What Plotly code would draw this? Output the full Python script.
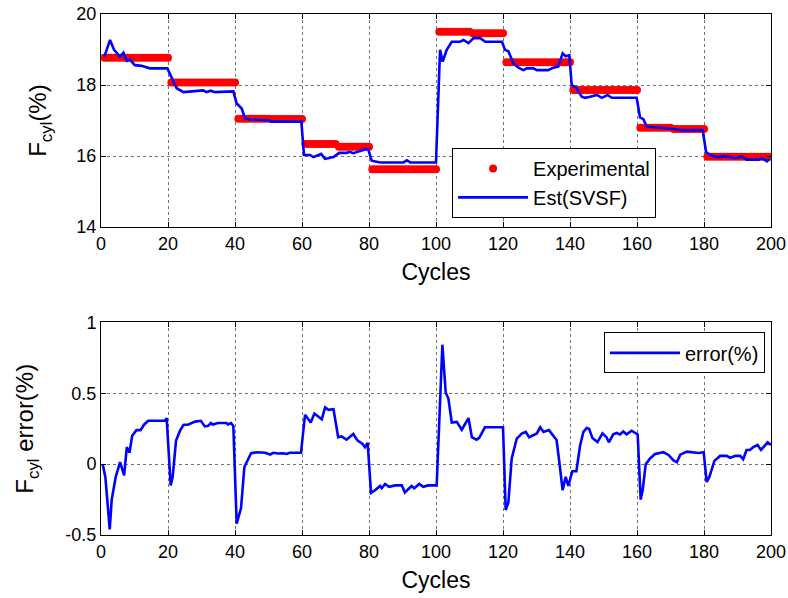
import plotly.graph_objects as go
from plotly.subplots import make_subplots

# ---------------- data ----------------
exp_cycles = list(range(1, 201))
exp_values = [
    18.77, 18.77, 18.77, 18.77, 18.77, 18.77, 18.77, 18.77, 18.77, 18.77,
    18.77, 18.77, 18.77, 18.77, 18.77, 18.77, 18.77, 18.77, 18.77, 18.77,
    18.07, 18.07, 18.07, 18.07, 18.07, 18.07, 18.07, 18.07, 18.07, 18.07,
    18.07, 18.07, 18.07, 18.07, 18.07, 18.07, 18.07, 18.07, 18.07, 18.07,
    17.05, 17.05, 17.05, 17.05, 17.05, 17.05, 17.05, 17.05, 17.05, 17.05,
    17.04, 17.04, 17.04, 17.04, 17.04, 17.04, 17.04, 17.04, 17.04, 17.04,
    16.34, 16.34, 16.34, 16.34, 16.34, 16.34, 16.34, 16.34, 16.34, 16.34,
    16.26, 16.26, 16.26, 16.26, 16.26, 16.26, 16.26, 16.26, 16.26, 16.26,
    15.63, 15.63, 15.63, 15.63, 15.63, 15.63, 15.63, 15.63, 15.63, 15.63,
    15.63, 15.63, 15.63, 15.63, 15.63, 15.63, 15.63, 15.63, 15.63, 15.63,
    19.50, 19.50, 19.50, 19.50, 19.50, 19.50, 19.50, 19.50, 19.50, 19.50,
    19.46, 19.46, 19.46, 19.46, 19.46, 19.46, 19.46, 19.46, 19.46, 19.46,
    18.64, 18.64, 18.64, 18.64, 18.64, 18.64, 18.64, 18.64, 18.64, 18.64,
    18.64, 18.64, 18.64, 18.64, 18.64, 18.64, 18.64, 18.64, 18.64, 18.64,
    17.86, 17.86, 17.86, 17.86, 17.86, 17.86, 17.86, 17.86, 17.86, 17.86,
    17.86, 17.86, 17.86, 17.86, 17.86, 17.86, 17.86, 17.86, 17.86, 17.86,
    16.80, 16.80, 16.80, 16.80, 16.80, 16.80, 16.80, 16.80, 16.80, 16.80,
    16.76, 16.76, 16.76, 16.76, 16.76, 16.76, 16.76, 16.76, 16.76, 16.76,
    15.98, 15.98, 15.98, 15.98, 15.98, 15.98, 15.98, 15.98, 15.98, 15.98,
    15.98, 15.98, 15.98, 15.98, 15.98, 15.98, 15.98, 15.98, 15.98, 15.98,
]

est_cycles = [
    1, 2.7, 3.9, 5.7, 6.7, 7.7, 8.7, 10.1, 12.1, 14.6, 19.8, 21.1, 22.6, 24.6,
    30.5, 31.5, 32.7, 34.0, 39.5, 40.5, 42, 43, 44.5, 50.3, 50.8, 59.8, 60.6,
    62.4, 63.4, 65.7, 66.9, 69.4, 71.1, 73.3, 74.3, 75.3, 77.3, 79.3, 79.8,
    80.8, 83.3, 90.3, 91.3, 92.3, 100.0, 101.2, 102.0, 103.2, 104.7, 107.2,
    108.2, 109.7, 111.2, 113.2, 114.7, 119.7, 120.6, 121.6, 123.1, 124.6,
    126.1, 127.1, 129.1, 130.1, 133.5, 135.0, 136.5, 137.8, 138.7, 139.8,
    140.5, 141.8, 143.5, 144.5, 146, 148, 149.5, 151.2, 152.5, 159.9, 160.9,
    161.9, 162.9, 165.9, 170.9, 172.9, 179.6, 180.6, 181.8, 183.8, 186.8,
    189.3, 191.3, 192.7, 196.3, 197.3, 198.8, 199.6,
]
est_values = [
    18.80, 19.27, 18.99, 18.80, 18.91, 18.68, 18.71, 18.56, 18.54, 18.47,
    18.47, 18.19, 17.91, 17.80, 17.85, 17.80, 17.84, 17.80, 17.82, 17.48,
    17.34, 17.06, 17.03, 17.00, 16.97, 16.97, 16.03, 16.03, 15.97, 16.06,
    15.92, 15.97, 16.09, 16.09, 16.12, 16.08, 16.15, 16.20, 16.18, 15.87,
    15.82, 15.82, 15.88, 15.82, 15.82, 18.99, 18.66, 18.99, 19.22, 19.22,
    19.27, 19.18, 19.32, 19.32, 19.22, 19.22, 18.99, 18.95, 18.61, 18.49,
    18.42, 18.47, 18.47, 18.42, 18.42, 18.49, 18.52, 18.89, 18.81, 18.84,
    18.00, 17.93, 17.67, 17.64, 17.67, 17.72, 17.64, 17.72, 17.64, 17.64,
    17.09, 17.04, 16.83, 16.81, 16.76, 16.73, 16.73, 16.12, 16.03, 15.97,
    15.99, 15.94, 15.99, 15.90, 15.90, 15.94, 15.85, 15.92,
]

err_cycles = [
    0.5, 1.3, 2.6, 3.2, 4.4, 5.7, 6.9, 7.7, 8.5, 9.3, 10.6, 11.8, 12.9, 14.1,
    19.1, 19.6, 20.8, 21.4, 22.4, 23.6, 24.6, 26.1, 28.1, 29.8, 31.0, 32,
    32.8, 33.4, 34.9, 37.4, 37.9, 38.8, 39.5, 40.5, 41.8, 42.8, 44.8, 46.5,
    49, 50.5, 51.4, 52.9, 54.4, 55.4, 56.4, 59.7, 60.9, 62.6, 63.7, 65.9,
    66.9, 67.9, 69.4, 70.8, 71.8, 73.3, 75.3, 76.6, 78.1, 78.8, 79.6, 80.6,
    81.8, 83.3, 83.8, 84.8, 86, 87.8, 89.8, 90.7, 92.7, 93.5, 95, 96.2, 97.7,
    100.2, 101.9, 102.9, 103.7, 104.7, 106.2, 107.7, 109.7, 110.7, 112.1,
    112.9, 114.6, 120, 120.8, 121.6, 122.6, 124.1, 125.6, 126.8, 127.8,
    129.1, 130.1, 131.1, 132.1, 133.7, 135.0, 136, 137, 137.8, 138.7, 139.5,
    140.7, 141.9, 143, 144, 145, 145.7, 146.7, 148.2, 149.7, 150.9, 151.6,
    152.9, 153.9, 154.9, 155.9, 156.9, 158.4, 159.4, 160.2, 161.1, 161.7,
    162.6, 163.9, 165.4, 166.6, 167.9, 169.4, 170.9, 171.9, 172.9, 174.9,
    176.9, 178.4, 179.9, 180.8, 181.6, 183.1, 184.8, 186.8, 187.8, 189.3,
    190.8, 191.7, 192.7, 193.7, 194.7, 196, 197, 198, 199, 200,
]
err_values = [
    0.0, -0.09, -0.46, -0.25, -0.09, 0.014, -0.08, 0.12, 0.08, 0.2, 0.24, 0.24,
    0.28, 0.306, 0.306, 0.325, -0.15, -0.09, 0.166, 0.236, 0.276, 0.28, 0.30,
    0.306, 0.266, 0.27, 0.29, 0.28, 0.29, 0.29, 0.28, 0.29, 0.27, -0.42,
    -0.31, -0.02, 0.077, 0.084, 0.08, 0.068, 0.08, 0.075, 0.077, 0.072, 0.08,
    0.08, 0.348, 0.294, 0.357, 0.317, 0.40, 0.383, 0.387, 0.19, 0.196, 0.173,
    0.213, 0.166, 0.143, 0.12, 0.15, -0.203, -0.184, -0.154, -0.17, -0.14,
    -0.16, -0.15, -0.15, -0.2, -0.154, -0.17, -0.14, -0.16, -0.15, -0.15,
    0.843, 0.504, 0.463, 0.294, 0.298, 0.243, 0.325, 0.19, 0.173, 0.185,
    0.26, 0.26, -0.324, -0.27, 0.04, 0.18, 0.215, 0.227, 0.19, 0.208, 0.217,
    0.26, 0.227, 0.24, 0.196, 0.17, -0.022, -0.184, -0.09, -0.154, -0.05,
    -0.05, 0.13, 0.227, 0.255, 0.25, 0.184, 0.156, 0.217, 0.19, 0.154, 0.21,
    0.22, 0.21, 0.23, 0.21, 0.236, 0.22, 0.21, -0.25, -0.183, 0.0, 0.04,
    0.072, 0.077, 0.084, 0.065, 0.026, 0.014, 0.067, 0.088, 0.084, 0.079,
    0.084, -0.126, -0.09, 0.023, 0.058, 0.058, 0.044, 0.058, 0.058, 0.035,
    0.1, 0.1, 0.12, 0.135, 0.1, 0.13, 0.154, 0.135,
]

x_ticks = [0, 20, 40, 60, 80, 100, 120, 140, 160, 180, 200]
top_y_ticks = [14, 16, 18, 20]
bot_y_ticks = [-0.5, 0, 0.5, 1]

# ---------------- figure ----------------
FONT = "Arial, 'Liberation Sans', sans-serif"
fig = make_subplots(rows=2, cols=1)

fig.add_trace(go.Scatter(
    x=exp_cycles, y=exp_values, mode="markers", name="Experimental",
    marker=dict(color="#ff0000", size=8, line=dict(width=0)),
    legend="legend"), row=1, col=1)
fig.add_trace(go.Scatter(
    x=est_cycles, y=est_values, mode="lines", name="Est(SVSF)",
    line=dict(color="#0000ff", width=2.6), legend="legend"), row=1, col=1)
fig.add_trace(go.Scatter(
    x=err_cycles, y=err_values, mode="lines", name="error(%)",
    line=dict(color="#0000ff", width=2.6), legend="legend2"), row=2, col=1)

axis_common = dict(
    showline=True, linecolor="black", linewidth=1, mirror="ticks",
    ticks="inside", ticklen=5, tickcolor="black", automargin=False,
    showgrid=True, gridcolor="rgba(0,0,0,0.55)", griddash="dot", gridwidth=1,
    zeroline=False, tickfont=dict(family=FONT, size=18, color="black"),
)

for r in (1, 2):
    fig.update_xaxes(range=[0, 200], tickvals=x_ticks, **axis_common,
                     title=dict(text="Cycles", font=dict(family=FONT, size=23, color="black"),
                                standoff=11),
                     row=r, col=1)

fig.update_yaxes(range=[14, 20], tickvals=top_y_ticks, **axis_common,
                 title=dict(text="F<sub>cyl</sub>(%)", font=dict(family=FONT, size=24, color="black"),
                            standoff=22),
                 row=1, col=1)
fig.update_yaxes(range=[-0.5, 1], tickvals=bot_y_ticks, ticktext=["-0.5", "0", "0.5", "1"],
                 **axis_common,
                 title=dict(text="F<sub>cyl</sub> error(%)", font=dict(family=FONT, size=24, color="black"),
                            standoff=24),
                 row=2, col=1)

fig.update_layout(
    width=788, height=598,
    margin=dict(l=101, r=17, t=14, b=63),
    paper_bgcolor="white", plot_bgcolor="white",
    xaxis=dict(domain=[0, 1]),
    yaxis=dict(domain=[0.591, 1.0]),
    xaxis2=dict(domain=[0, 1]),
    yaxis2=dict(domain=[0.0, 0.408]),
    showlegend=True,
    legend=dict(x=0.524, y=0.743, xanchor="left", yanchor="top",
                bgcolor="white", bordercolor="black", borderwidth=1,
                font=dict(family=FONT, size=20, color="black"),
                itemwidth=70, tracegroupgap=0),
    legend2=dict(x=0.991, y=0.389, xanchor="right", yanchor="top",
                 bgcolor="white", bordercolor="black", borderwidth=1,
                 font=dict(family=FONT, size=20, color="black"),
                 itemwidth=70),
)

fig.write_html("out.html")
